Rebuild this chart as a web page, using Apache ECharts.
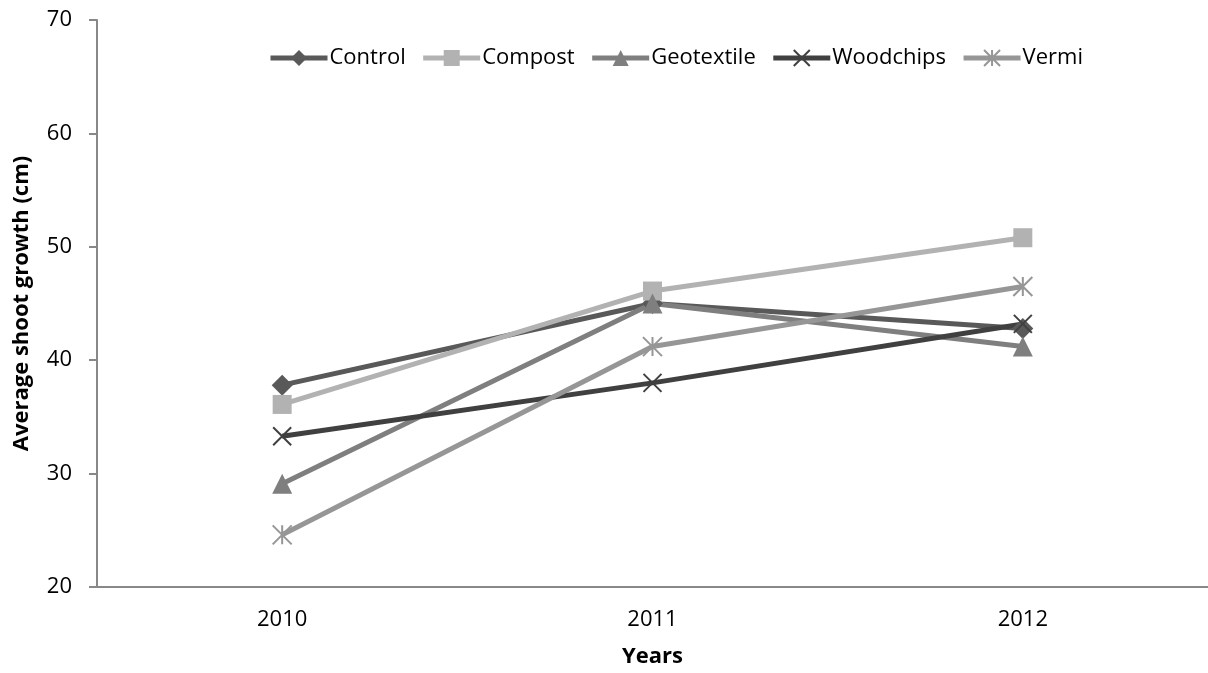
<!DOCTYPE html>
<html>
<head>
<meta charset="utf-8">
<script src="https://cdn.jsdelivr.net/npm/echarts@6/dist/echarts.min.js"></script>
<style>
html,body{margin:0;padding:0;background:#fff;}
#chart{width:1208px;height:673px;}
</style>
</head>
<body>
<div id="chart"></div>
<script>
const years = ['2010', '2011', '2012'];
const control = [37.8, 45.0, 42.8];
const compost = [36.1, 46.1, 50.8];
const geotextile = [29.1, 45.0, 41.2];
const woodchips = [33.3, 38.0, 43.2];
const vermi = [24.6, 41.2, 46.5];

const FONT = '"Open Sans", "Liberation Sans", sans-serif';
const xPath = 'path://M0,0L10,10M10,0L0,10';
const starPath = 'path://M5,0L5,10M0,0L10,10M10,0L0,10';

function mk(name, data, color, symbol, size, stroke) {
  const s = {
    name: name, type: 'line', data: data,
    symbol: symbol, symbolSize: size,
    showSymbol: true,
    lineStyle: { color: color, width: 5 },
    itemStyle: { color: color },
    emphasis: { disabled: true },
    z: 2
  };
  if (stroke) {
    s.itemStyle = { color: 'none', borderColor: color, borderWidth: 2 };
  }
  return s;
}

const chart = echarts.init(document.getElementById('chart'));
chart.setOption({
  animation: false,
  backgroundColor: '#fff',
  grid: { left: 97, right: 0, top: 20, bottom: 84 },
  legend: {
    top: 42,
    left: 263,
    itemGap: 15,
    itemWidth: 57,
    itemHeight: 20,
    lineStyle: { width: 5 },
    textStyle: { fontFamily: FONT, fontSize: 22, color: '#000', padding: [0,0,0,-3] },
    data: ['Control', 'Compost', 'Geotextile', 'Woodchips', 'Vermi']
  },
  xAxis: {
    type: 'category',
    data: years,
    boundaryGap: true,
    axisLine: { lineStyle: { color: '#888', width: 2 } },
    axisTick: { show: false },
    axisLabel: { fontFamily: FONT, fontSize: 22, color: '#000', margin: 22 },
    name: 'Years',
    nameLocation: 'middle',
    nameGap: 59,
    nameTextStyle: { fontFamily: FONT, fontSize: 22, fontWeight: 'bold', color: '#000' }
  },
  yAxis: {
    type: 'value',
    min: 20, max: 70, interval: 10,
    splitLine: { show: false },
    axisLine: { show: true, lineStyle: { color: '#888', width: 2 } },
    axisTick: { show: true, length: 8, inside: false, lineStyle: { color: '#888', width: 2 } },
    axisLabel: { fontFamily: FONT, fontSize: 22, color: '#000', margin: 25 },
    name: 'Average shoot growth (cm)',
    nameLocation: 'middle',
    nameGap: 64,
    nameTextStyle: { fontFamily: FONT, fontSize: 22, fontWeight: 'bold', color: '#000' }
  },
  series: [
    mk('Control', control, '#595959', 'diamond', 21),
    mk('Compost', compost, '#b2b2b2', 'rect', 19),
    mk('Geotextile', geotextile, '#7f7f7f', 'triangle', 20),
    mk('Woodchips', woodchips, '#404040', xPath, 18, true),
    mk('Vermi', vermi, '#969696', starPath, 19, true)
  ]
});
</script>
</body>
</html>
